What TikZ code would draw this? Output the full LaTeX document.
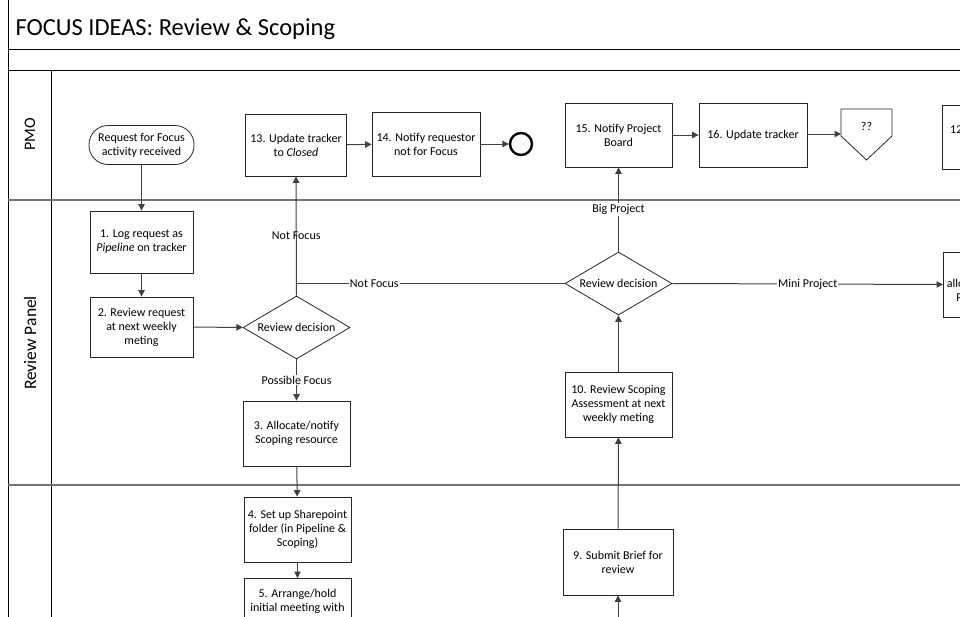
\documentclass[tikz,border=0pt]{standalone}
\usepackage{fontspec}
\setmainfont{Carlito}
\usepackage{tikz}
\usetikzlibrary{positioning,calc,shapes,arrows.meta}

\begin{document}
\begin{tikzpicture}[x=1pt, y=-1pt,
    box/.style={draw=black!85, line width=0.8pt, minimum width=107pt, minimum height=64pt, align=center, inner sep=2pt, font=\fontsize{12}{14}\selectfont},
    decision/.style={draw=black!85, line width=0.8pt, shape=diamond, aspect=1.7, inner sep=0pt, minimum width=107pt, minimum height=63pt, font=\fontsize{12}{14}\selectfont},
    flow/.style={draw=black!75, line width=1pt, -{Triangle[length=6.5pt,width=6.5pt]}},
    link/.style={draw=black!75, line width=1pt},
    lbl/.style={font=\fontsize{12}{14}\selectfont, inner sep=1pt},
    lane/.style={draw=black!55, line width=1.4pt},
    frame/.style={draw=black, line width=0.9pt}]
  \clip (0,0) rectangle (960,616);

  % frame and lanes
  \draw[frame] (8,0) -- (8,640);
  \draw[frame] (8,49) -- (960,49) (8,70) -- (960,70);
  \draw[frame] (51,70) -- (51,640);
  \draw[lane] (8,200) -- (960,200);
  \draw[lane] (8,485) -- (960,485);

  \node[anchor=west, font=\fontsize{24.5}{28}\selectfont] (title) at (12,29) {FOCUS IDEAS: Review \& Scoping};
  \node[rotate=90, font=\fontsize{16}{18}\selectfont] (pmo) at (30,134) {PMO};
  \node[rotate=90, font=\fontsize{17.5}{20}\selectfont] (panel) at (30,343) {Review Panel};

  % PMO
  \node[box, rounded corners=19pt, minimum width=105pt, minimum height=39pt] (start) at (141.5,145) {Request for Focus\\activity received};
  \node[box, minimum width=101pt, minimum height=62pt] (b13) at (296,145) {13. Update tracker\\to \textit{Closed}};
  \node[box, minimum width=108pt] (b14) at (426,144) {14. Notify requestor\\not for Focus};
  \node[draw=black, line width=2.4pt, circle, minimum size=22pt, inner sep=0pt] (stop) at (521,144) {};
  \node[box] (b15) at (618.5,135) {15. Notify Project\\Board};
  \node[box, minimum width=108pt] (b16) at (753,135) {16. Update tracker};
  \draw[draw=black!85, line width=0.8pt] (841,109) -- (892,109) -- (892,136) -- (866.5,160) -- (841,136) -- cycle;
  \node[lbl] (offpage) at (866.5,126) {??};
  \coordinate (offin) at (841,134);
  \node[box, anchor=west] (b12) at (942,137) {12. Update tracker\\as \textit{Mini Project}};

  % review panel
  \node[box, minimum width=103pt, minimum height=62pt] (b1) at (141.5,242) {1. Log request as\\\textit{Pipeline} on tracker};
  \node[box, minimum width=103pt, minimum height=60pt] (b2) at (141.5,327) {2. Review request\\at next weekly\\meting};
  \node[decision] (dec1) at (296.5,327.5) {Review decision};
  \node[box, minimum height=65pt] (b3) at (296.5,433.5) {3. Allocate/notify\\Scoping resource};
  \node[decision] (dec2) at (618.5,283.5) {Review decision};
  \node[box, minimum height=65pt] (b10) at (618.5,404.5) {10. Review Scoping\\Assessment at next\\weekly meting};
  \node[box, anchor=west, minimum height=65pt] (b11) at (943,284.5) {11. Notify\\allocate Mini Project\\Project Manager};

  % scoping
  \node[box, minimum height=65pt] (b4) at (297.5,529.5) {4. Set up Sharepoint\\folder (in Pipeline \&\\Scoping)};
  \node[box, anchor=north, minimum height=65pt] (b5) at (297.5,578) {};
  \node[lbl, anchor=north, align=center, yshift=-10pt] (b5text) at (b5.north) {5. Arrange/hold\\initial meeting with};
  \node[box, minimum width=110pt, minimum height=66pt] (b9) at (618,562) {9. Submit Brief for\\review};
  \coordinate (in9) at (618,640);

  % connectors
  \draw[flow] (start) -- (b1);
  \draw[flow] (b1) -- (b2);
  \draw[flow] (b2) -- (dec1);
  \draw[flow] (dec1.north) -- node[lbl, pos=0.5] {Not Focus} (b13.south);
  \draw[link] (dec2.west) -- node[lbl, fill=white, pos=0.71] {Not Focus} (dec1.north |- dec2.west);
  \draw[flow] (dec1.south) -- node[lbl, fill=white] {Possible Focus} (b3.north);
  \draw[flow] (b3) -- (b4);
  \draw[flow] (b4) -- (b5);
  \draw[flow] (b13) -- (b14);
  \draw[flow] (b14) -- (stop);
  \draw[flow] (b15) -- (b16);
  \draw[flow] (b16.east |- offin) -- (offin);
  \draw[flow] (dec2.north) -- node[lbl, fill=white] {Big Project} (b15.south);
  \draw[flow] (dec2.east) -- node[lbl, fill=white] {Mini Project} (b11.west);
  \draw[flow] (b10.north) -- (dec2.south);
  \draw[flow] (b9) -- (b10);
  \draw[flow] (in9) -- (b9.south);

\end{tikzpicture}
\end{document}
